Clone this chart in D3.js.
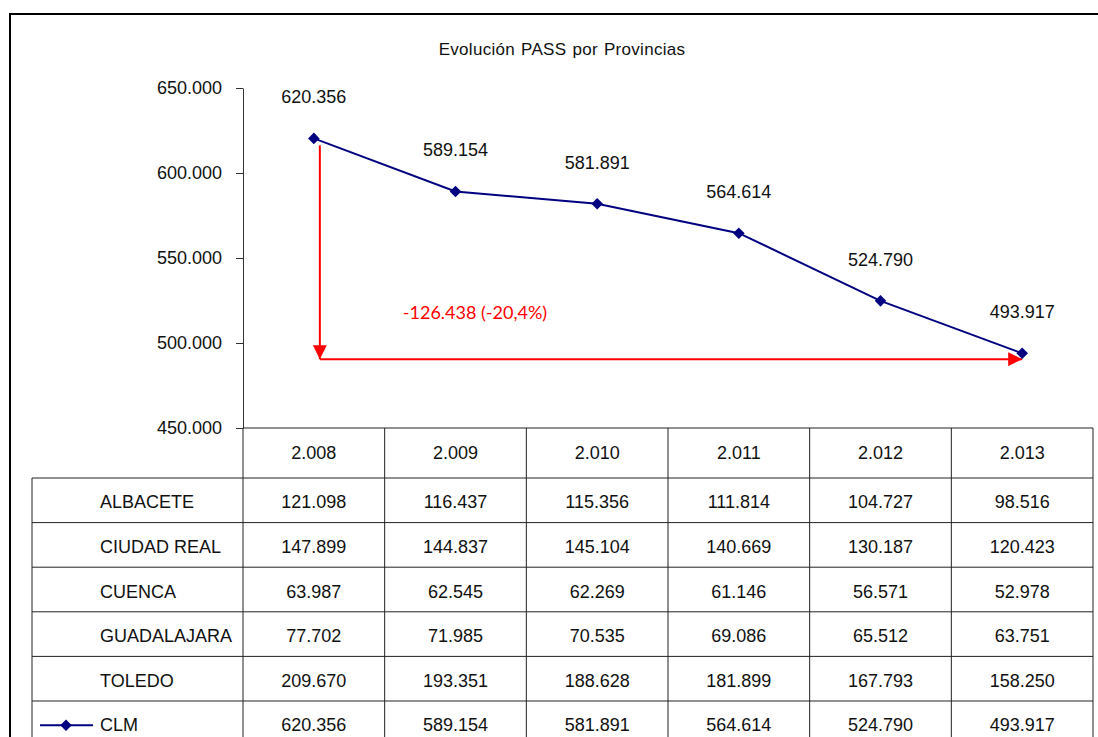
<!DOCTYPE html>
<html>
<head>
<meta charset="utf-8">
<script src="https://cdn.jsdelivr.net/npm/d3@7"></script>
<style>
  body { margin: 0; background: #fff; }
  text { font-family: "Liberation Sans", Arial, sans-serif; fill: #111; }
</style>
</head>
<body>
<div id="chart"></div>
<script>
// data
const years = [2008, 2009, 2010, 2011, 2012, 2013];
const provinces = ["ALBACETE", "CIUDAD REAL", "CUENCA", "GUADALAJARA", "TOLEDO", "CLM"];
const albacete = [121098, 116437, 115356, 111814, 104727, 98516];
const ciudadReal = [147899, 144837, 145104, 140669, 130187, 120423];
const cuenca = [63987, 62545, 62269, 61146, 56571, 52978];
const guadalajara = [77702, 71985, 70535, 69086, 65512, 63751];
const toledo = [209670, 193351, 188628, 181899, 167793, 158250];
const clm = [620356, 589154, 581891, 564614, 524790, 493917];
const yTicks = [450000, 500000, 550000, 600000, 650000];
const arrowLevel = 490500;
const diffLabel = "-126.438 (-20,4%)";
const title = "Evolución PASS por Provincias";

const rows = [albacete, ciudadReal, cuenca, guadalajara, toledo, clm];

const es = d3.formatLocale({ decimal: ",", thousands: ".", grouping: [3], currency: ["", " €"] });
const fmt = es.format(",d");

const width = 1098, height = 737;
const svg = d3.select("#chart").append("svg")
    .attr("width", width)
    .attr("height", height);

// scales
const x = d3.scaleBand().domain(years).range([243, 1093]).padding(0);
const y = d3.scaleLinear().domain([450000, 650000]).range([428, 88]);
const cx = d => x(d) + x.bandwidth() / 2;

// outer frame
svg.append("path")
    .attr("d", `M10,${height} V14 H${width}`)
    .attr("fill", "none")
    .attr("stroke", "#000")
    .attr("stroke-width", 2);

// title
svg.append("text")
    .attr("x", 562)
    .attr("y", 55)
    .attr("text-anchor", "middle")
    .style("font-size", "17px")
    .style("letter-spacing", "0.3px")
    .style("word-spacing", "1px")
    .text(title);

// y axis
const yAxis = svg.append("g")
    .attr("transform", "translate(243,0)")
    .call(d3.axisLeft(y).tickValues(yTicks).tickFormat(fmt).tickSize(7).tickSizeOuter(0).tickPadding(14));
yAxis.select(".domain").attr("stroke", "#333");
yAxis.selectAll(".tick line").attr("stroke", "#333");
yAxis.selectAll(".tick text")
    .attr("fill", "#111")
    .style("font-family", "'Liberation Sans', Arial, sans-serif")
    .style("font-size", "18px");

// annotation arrows
svg.append("defs").append("marker")
    .attr("id", "arrow")
    .attr("viewBox", "0 0 10 10")
    .attr("refX", 10).attr("refY", 5)
    .attr("markerWidth", 16).attr("markerHeight", 14)
    .attr("markerUnits", "userSpaceOnUse")
    .attr("orient", "auto")
    .append("path")
    .attr("d", "M0,0 L10,5 L0,10 Z")
    .attr("fill", "#ff0000");

const ax0 = cx(years[0]) + 6;
const ax1 = cx(years[years.length - 1]);
svg.append("line")
    .attr("x1", ax0).attr("y1", y(clm[0]) + 7)
    .attr("x2", ax0).attr("y2", y(arrowLevel))
    .attr("stroke", "#ff0000").attr("stroke-width", 2)
    .attr("marker-end", "url(#arrow)");
svg.append("line")
    .attr("x1", ax0).attr("y1", y(arrowLevel))
    .attr("x2", ax1).attr("y2", y(arrowLevel))
    .attr("stroke", "#ff0000").attr("stroke-width", 2)
    .attr("marker-end", "url(#arrow)");
svg.append("text")
    .attr("x", 475)
    .attr("y", 319)
    .attr("text-anchor", "middle")
    .style("font-family", "Lato, 'Open Sans', sans-serif")
    .style("font-size", "18px")
    .style("fill", "#ff0000")
    .text(diffLabel);

// CLM line
const line = d3.line().x((d, i) => cx(years[i])).y(d => y(d));
svg.append("path")
    .datum(clm)
    .attr("d", line)
    .attr("fill", "none")
    .attr("stroke", "#000080")
    .attr("stroke-width", 2);

const diamond = d3.symbol().type(d3.symbolDiamond2).size(85);
svg.selectAll(".pt")
    .data(clm)
    .enter().append("path")
    .attr("class", "pt")
    .attr("transform", (d, i) => `translate(${cx(years[i])},${y(d)})`)
    .attr("d", diamond)
    .attr("fill", "#000080");

svg.selectAll(".lbl")
    .data(clm)
    .enter().append("text")
    .attr("class", "lbl")
    .attr("x", (d, i) => cx(years[i]))
    .attr("y", d => y(d) - 35)
    .attr("text-anchor", "middle")
    .style("font-size", "18px")
    .text(d => fmt(d));

// data table
const headTop = 428, headBottom = 478, rowH = 44.6;
const tableBottom = headBottom + rowH * rows.length;
const tbl = svg.append("g").attr("stroke", "#222").attr("stroke-width", 1);

tbl.append("line").attr("x1", 243).attr("x2", 1093).attr("y1", headTop).attr("y2", headTop);
rows.forEach((r, i) => {
    tbl.append("line")
        .attr("x1", 32).attr("x2", 1093)
        .attr("y1", headBottom + rowH * i).attr("y2", headBottom + rowH * i);
});
tbl.append("line").attr("x1", 32).attr("x2", 32).attr("y1", headBottom).attr("y2", tableBottom);
years.forEach(yr => {
    tbl.append("line").attr("x1", x(yr)).attr("x2", x(yr)).attr("y1", headTop).attr("y2", tableBottom);
});
tbl.append("line").attr("x1", 1093).attr("x2", 1093).attr("y1", headTop).attr("y2", tableBottom);

svg.selectAll(".yr")
    .data(years)
    .enter().append("text")
    .attr("class", "yr")
    .attr("x", d => cx(d))
    .attr("y", (headTop + headBottom) / 2 + 6)
    .attr("text-anchor", "middle")
    .style("font-size", "18px")
    .text(d => fmt(d));

rows.forEach((r, i) => {
    const mid = headBottom + rowH * i + rowH / 2 + 8;
    svg.append("text")
        .attr("x", 100)
        .attr("y", mid)
        .style("font-size", "18px")
        .text(provinces[i]);
    svg.selectAll(".v" + i)
        .data(r)
        .enter().append("text")
        .attr("x", (d, j) => cx(years[j]))
        .attr("y", mid)
        .attr("text-anchor", "middle")
        .style("font-size", "18px")
        .text(d => fmt(d));
});

// legend key for CLM row
const keyY = headBottom + rowH * 5 + rowH / 2 + 2;
svg.append("line")
    .attr("x1", 40).attr("x2", 93)
    .attr("y1", keyY).attr("y2", keyY)
    .attr("stroke", "#000080").attr("stroke-width", 2);
svg.append("path")
    .attr("transform", `translate(66,${keyY})`)
    .attr("d", diamond)
    .attr("fill", "#000080");
</script>
</body>
</html>
